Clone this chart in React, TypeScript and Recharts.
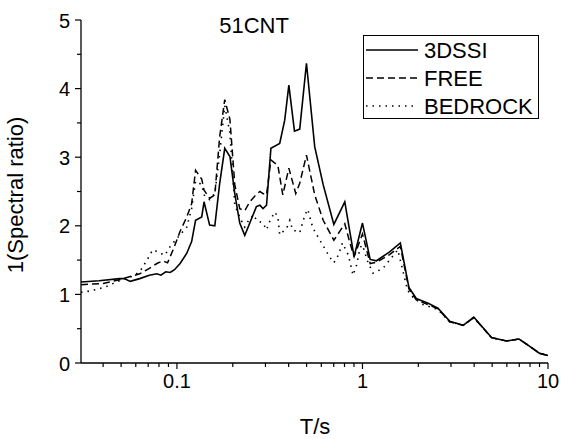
import React from 'react';
import { LineChart, Line, XAxis, YAxis, Legend } from 'recharts';

// ---------- data ----------
const periodsSsi = [0.0304, 0.038, 0.049, 0.052, 0.056, 0.063, 0.071, 0.078, 0.082, 0.087, 0.092, 0.097, 0.104, 0.113, 0.12, 0.126, 0.136, 0.14, 0.15, 0.16, 0.17, 0.181, 0.193, 0.205, 0.218, 0.232, 0.247, 0.268, 0.28, 0.291, 0.304, 0.321, 0.358, 0.381, 0.401, 0.43, 0.459, 0.499, 0.553, 0.614, 0.701, 0.803, 0.901, 1.0, 1.1, 1.19, 1.4, 1.6, 1.78, 1.95, 2.26, 2.55, 2.95, 3.49, 3.98, 4.96, 5.97, 6.98, 7.8, 9.02, 10.0];
const ratioSsi = [1.18, 1.2, 1.23, 1.23, 1.19, 1.23, 1.28, 1.3, 1.28, 1.33, 1.32, 1.36, 1.45, 1.6, 1.77, 2.08, 2.13, 2.35, 2.01, 2.0, 2.62, 3.13, 3.01, 2.47, 2.04, 1.86, 2.04, 2.28, 2.3, 2.25, 2.3, 3.13, 3.2, 3.54, 4.05, 3.38, 3.41, 4.37, 3.15, 2.6, 2.02, 2.35, 1.55, 2.04, 1.51, 1.49, 1.62, 1.75, 1.1, 0.94, 0.87, 0.8, 0.61, 0.55, 0.67, 0.37, 0.32, 0.35, 0.26, 0.14, 0.11];

const periodsFree = [0.0304, 0.04, 0.05, 0.056, 0.063, 0.071, 0.078, 0.084, 0.089, 0.096, 0.104, 0.113, 0.12, 0.126, 0.136, 0.14, 0.15, 0.16, 0.17, 0.181, 0.193, 0.205, 0.218, 0.232, 0.247, 0.268, 0.28, 0.291, 0.304, 0.321, 0.35, 0.372, 0.401, 0.437, 0.459, 0.499, 0.553, 0.614, 0.701, 0.803, 0.85, 0.901, 1.0, 1.1, 1.19, 1.4, 1.6, 1.78, 1.95, 2.26, 2.55, 2.95, 3.49, 3.98, 4.96, 5.97, 6.98, 7.8, 9.02, 10.0];
const ratioFree = [1.14, 1.16, 1.22, 1.26, 1.3, 1.38, 1.45, 1.49, 1.46, 1.67, 1.92, 2.13, 2.32, 2.81, 2.68, 2.52, 2.4, 2.45, 3.3, 3.84, 3.55, 2.6, 2.25, 2.22, 2.35, 2.46, 2.5, 2.47, 2.45, 2.96, 2.88, 2.45, 2.84, 2.47, 2.62, 3.03, 2.45, 2.08, 1.79, 2.03, 1.78, 1.55, 1.88, 1.45, 1.47, 1.58, 1.7, 1.08, 0.92, 0.85, 0.79, 0.6, 0.55, 0.66, 0.37, 0.32, 0.35, 0.26, 0.14, 0.11];

const periodsBed = [0.0304, 0.034, 0.038, 0.042, 0.05, 0.056, 0.063, 0.069, 0.074, 0.079, 0.086, 0.092, 0.101, 0.113, 0.12, 0.126, 0.136, 0.14, 0.15, 0.16, 0.17, 0.181, 0.193, 0.205, 0.222, 0.232, 0.247, 0.26, 0.268, 0.291, 0.304, 0.318, 0.337, 0.35, 0.358, 0.391, 0.406, 0.42, 0.459, 0.49, 0.507, 0.54, 0.575, 0.62, 0.66, 0.701, 0.74, 0.78, 0.84, 0.89, 0.93, 0.97, 1.0, 1.07, 1.14, 1.29, 1.55, 1.75, 1.87, 2.09, 2.3, 2.55, 2.95, 3.49, 3.98, 4.96, 5.97, 6.98, 7.8, 9.02, 10.0];
const ratioBed = [1.03, 1.05, 1.08, 1.12, 1.21, 1.25, 1.33, 1.5, 1.65, 1.62, 1.57, 1.7, 1.83, 1.98, 2.25, 2.65, 2.6, 2.45, 2.38, 2.47, 3.05, 3.75, 3.35, 2.3, 2.08, 1.98, 2.11, 2.16, 2.08, 2.04, 1.94, 2.08, 2.2, 2.13, 1.87, 1.97, 2.08, 1.94, 1.9, 2.16, 2.24, 1.97, 1.84, 1.69, 1.56, 1.46, 1.57, 1.75, 1.57, 1.28, 1.43, 1.68, 1.72, 1.47, 1.31, 1.38, 1.65, 1.06, 0.96, 0.86, 0.82, 0.78, 0.6, 0.55, 0.66, 0.37, 0.32, 0.35, 0.26, 0.14, 0.11];

const seriesNames = ['3DSSI', 'FREE', 'BEDROCK'];
const seriesDash = ['', '7 4', '1.5 5'];

const xMajorTicks = [0.1, 1, 10];
const xTicks = [0.04, 0.05, 0.06, 0.07, 0.08, 0.09, 0.1, 0.2, 0.3, 0.4, 0.5, 0.6, 0.7, 0.8, 0.9, 1, 2, 3, 4, 5, 6, 7, 8, 9, 10];
const yTicks = [0, 0.5, 1, 1.5, 2, 2.5, 3, 3.5, 4, 4.5, 5];

const titleText = '51CNT';
const xLabel = 'T/s';
const yLabel = '1(Spectral ratio)';

// ---------- helpers ----------
const toRows = (ts: number[], vs: number[]) => ts.map((t, i) => ({ t, v: vs[i] }));
const dataSsi = toRows(periodsSsi, ratioSsi);
const dataFree = toRows(periodsFree, ratioFree);
const dataBed = toRows(periodsBed, ratioBed);

const FONT = '"Liberation Sans", Arial, Helvetica, sans-serif';

const XTick = (props: any) => {
  const { x, y, payload } = props;
  const v = payload.value;
  const major = xMajorTicks.some((m) => Math.abs(m - v) < 1e-9);
  return (
    <g>
      <line x1={x} x2={x} y1={y} y2={y + (major ? 6 : 4)} stroke="#000" strokeWidth={1.2} />
      {major && (
        <text x={x} y={y + 25} textAnchor="middle" fontSize={20} fontFamily={FONT} fill="#000">
          {String(v)}
        </text>
      )}
    </g>
  );
};

const YTick = (props: any) => {
  const { x, y, payload } = props;
  const v = payload.value;
  const major = Math.abs(v - Math.round(v)) < 1e-9;
  return (
    <g>
      <line x1={x - (major ? 6 : 4)} x2={x} y1={y} y2={y} stroke="#000" strokeWidth={1.2} />
      {major && (
        <text x={x - 11} y={y + 7.5} textAnchor="end" fontSize={20} fontFamily={FONT} fill="#000">
          {String(v)}
        </text>
      )}
    </g>
  );
};

const LegendBox = (props: any) => {
  const payload = props.payload || [];
  return (
    <div style={{ width: 176, height: 84, boxSizing: 'border-box', border: '1px solid #000', background: '#fff' }}>
      <svg width={174} height={82} style={{ display: 'block' }}>
        {seriesNames.map((name, i) => {
          const cy = 14 + i * 28;
          const entry = payload.find((p: any) => p.value === name);
          return (
            <g key={name}>
              <line x1={2} x2={54} y1={cy} y2={cy} stroke={entry ? entry.color : '#000'} strokeWidth={1.5} strokeDasharray={seriesDash[i] || undefined} />
              <text x={60} y={cy + 7.5} fontSize={22} fontFamily={FONT} fill="#000">{name}</text>
            </g>
          );
        })}
      </svg>
    </div>
  );
};

export default function App() {
  return (
    <div style={{ position: 'absolute', left: 0, top: 0, width: 564, height: 439, background: '#fff' }}>
      <LineChart width={564} height={439} margin={{ top: 20, right: 16, left: 0, bottom: 0 }}>
        <XAxis
          type="number"
          dataKey="t"
          scale="log"
          domain={[0.0304, 10]}
          allowDataOverflow
          ticks={xTicks}
          interval={0}
          height={76}
          tickSize={0}
          tickMargin={0}
          tickLine={false}
          tick={<XTick />}
          axisLine={{ stroke: '#000', strokeWidth: 1.3 }}
        />
        <YAxis
          type="number"
          domain={[0, 5]}
          ticks={yTicks}
          interval={0}
          width={81}
          tickSize={0}
          tickMargin={0}
          tickLine={false}
          tick={<YTick />}
          axisLine={{ stroke: '#000', strokeWidth: 1.3 }}
        />
        <Legend
          layout="horizontal"
          verticalAlign="middle"
          align="center"
          content={<LegendBox />}
          wrapperStyle={{ position: 'absolute', left: 363, top: 35, width: 176, height: 84 }}
        />
        <Line data={dataSsi} dataKey="v" name={seriesNames[0]} type="linear" stroke="#000" strokeWidth={1.6} dot={false} isAnimationActive={false} />
        <Line data={dataFree} dataKey="v" name={seriesNames[1]} type="linear" stroke="#000" strokeWidth={1.5} strokeDasharray={seriesDash[1]} dot={false} isAnimationActive={false} />
        <Line data={dataBed} dataKey="v" name={seriesNames[2]} type="linear" stroke="#000" strokeWidth={1.6} strokeDasharray={seriesDash[2]} dot={false} isAnimationActive={false} />
      </LineChart>
      <svg width={564} height={439} style={{ position: 'absolute', left: 0, top: 0, pointerEvents: 'none' }}>
        <text x={254} y={33} textAnchor="middle" fontSize={22} fontFamily={FONT} fill="#000">{titleText}</text>
        <text x={315} y={434} textAnchor="middle" fontSize={22} fontFamily={FONT} fill="#000">{xLabel}</text>
        <text x={23} y={195} transform="rotate(-90, 23, 195)" textAnchor="middle" fontSize={22} fontFamily={FONT} fill="#000">{yLabel}</text>
      </svg>
    </div>
  );
}
